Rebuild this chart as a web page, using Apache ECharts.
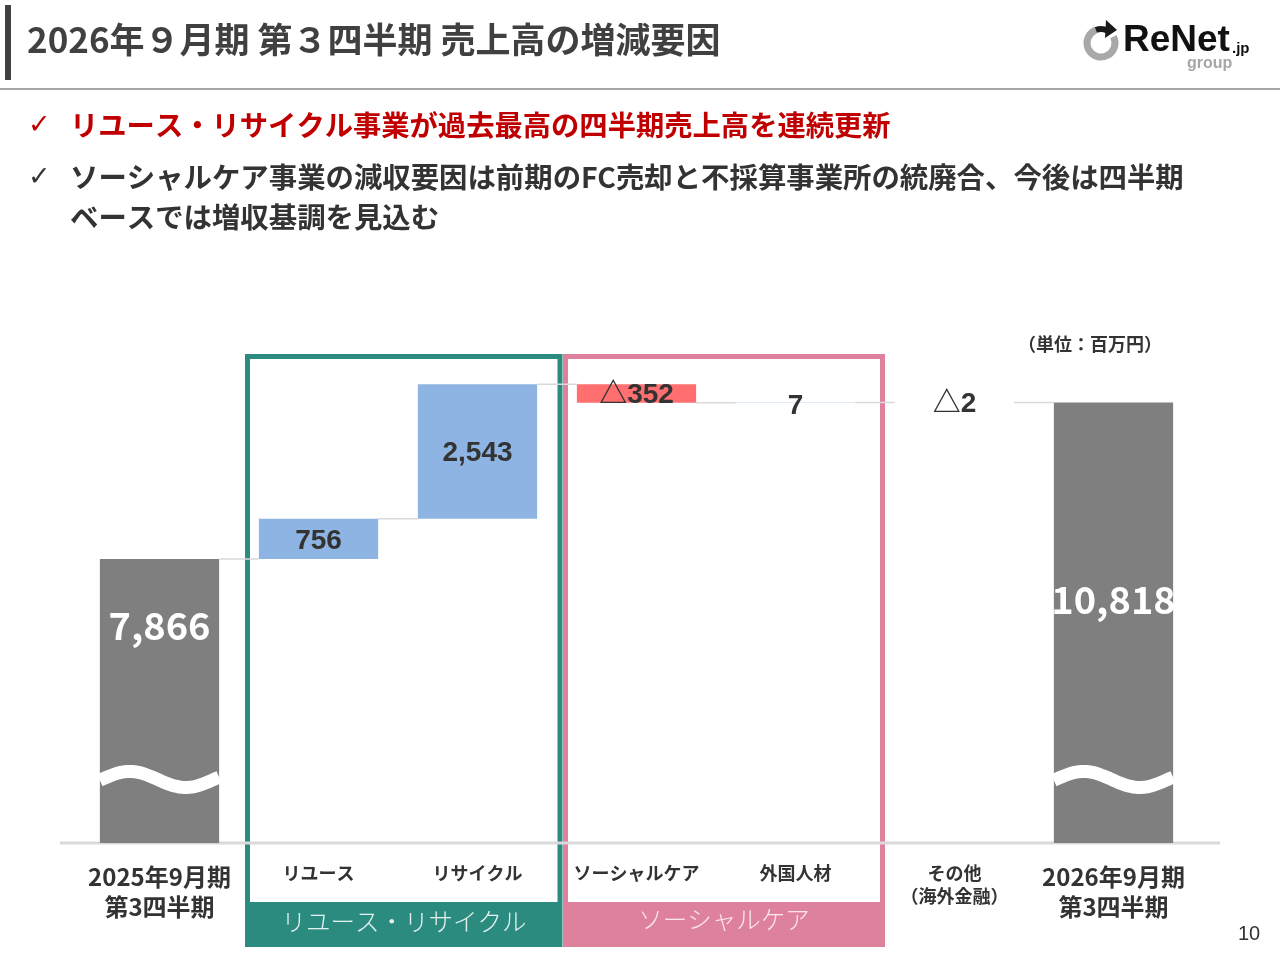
<!DOCTYPE html>
<html><head><meta charset="utf-8">
<script src="https://cdn.jsdelivr.net/npm/echarts@6/dist/echarts.min.js"></script>
<style>html,body{margin:0;padding:0;background:#fff}#c{width:1280px;height:960px}</style>
</head><body><div id="c"></div>
<script>
// ---- data ----
const categories = ['2025年9月期\n第3四半期', 'リユース', 'リサイクル', 'ソーシャルケア', '外国人材', 'その他\n（海外金融）', '2026年9月期\n第3四半期'];
const startValue = 7866;
const deltas = [756, 2543, -352, 7, -2];
const endValue = 10818;
const axisMin = 2500;
const axisMax = 12000;

// ---- build waterfall ----
const FONT = "'Noto Sans CJK JP','Noto Sans','DejaVu Sans',sans-serif";
const NUMFONT = "'Liberation Sans','Noto Sans CJK JP',sans-serif";
const baseData = [null];
const valData = [startValue];
const levels = [startValue];
let level = startValue;
deltas.forEach(d => {
  const lo = Math.min(level, level + d);
  baseData.push(lo);
  valData.push(Math.abs(d));
  level += d;
  levels.push(level);
});
baseData.push(null);
valData.push(endValue);

const fmt = v => (v < 0 ? '△' : '') + Math.abs(v).toLocaleString('en-US');
const labelTexts = [fmt(startValue)].concat(deltas.map(fmt)).concat([fmt(endValue)]);

const GRAY = '#7f7f7f', BLUE = '#8db4e2', RED = '#ff6f6f';
const valueItems = valData.map((v, i) => {
  const isTotal = i === 0 || i === valData.length - 1;
  const d = isTotal ? 0 : deltas[i - 1];
  return {
    value: v,
    itemStyle: { color: isTotal ? GRAY : (d < 0 ? RED : BLUE) },
    label: isTotal ? {
      show: true, position: 'insideTop', distance: i === 0 ? 48 : 178,
      color: '#fff', fontSize: 38, fontWeight: 'bold', fontFamily: FONT,
      formatter: () => labelTexts[i]
    } : {
      show: true, position: 'inside', offset: [0, Math.abs(d) < 50 && d > 0 ? 4 : 2],
      color: '#333', fontSize: 28, fontWeight: 'bold', fontFamily: NUMFONT,
      formatter: () => labelTexts[i]
    }
  };
});

const connectorData = levels.map((lv, i) => [i, lv]);
const breakLevel = 3700;
const waveData = [[0, breakLevel], [categories.length - 1, breakLevel]];

const chart = echarts.init(document.getElementById('c'), null, { renderer: 'canvas' });

const TEAL = '#2c8b7f', PINK = '#de819d';

const option = {
  animation: false,
  backgroundColor: '#fff',
  grid: { left: 80, right: 87, top: 340, bottom: 117 },
  xAxis: {
    type: 'category',
    data: categories.map((c, i) => ({
      value: c,
      textStyle: (i === 0 || i === categories.length - 1)
        ? { fontSize: 24, lineHeight: 30 }
        : { fontSize: 18, lineHeight: 23 }
    })),
    axisLine: { show: false },
    axisTick: { show: false },
    axisLabel: { interval: 0, margin: 19, color: '#333', fontWeight: 'bold', fontFamily: FONT }
  },
  yAxis: { type: 'value', min: axisMin, max: axisMax, show: false, splitLine: { show: false } },
  graphic: [
    // header
    { type: 'rect', z: 1, shape: { x: 5, y: 5, width: 6, height: 75 }, style: { fill: '#404040' } },
    { type: 'text', z: 1, left: 27, top: 22, style: { text: '2026年９月期 第３四半期 売上高の増減要因', fill: '#404040', font: "bold 35px " + FONT } },
    { type: 'line', z: 1, shape: { x1: 0, y1: 89, x2: 1280, y2: 89 }, style: { stroke: '#a6a6a6', lineWidth: 2 } },
    // logo
    { type: 'arc', z: 1, shape: { cx: 1101, cy: 43, r: 14, startAngle: -Math.PI * 0.15, endAngle: -Math.PI * 0.62, clockwise: true }, style: { stroke: '#a8a8a8', lineWidth: 7, fill: null } },
    { type: 'arc', z: 1, shape: { cx: 1101, cy: 43, r: 14, startAngle: -Math.PI * 0.62, endAngle: -Math.PI * 0.35, clockwise: true }, style: { stroke: '#1a1a1a', lineWidth: 6, fill: null } },
    { type: 'polygon', z: 1, shape: { points: [[1106, 20], [1117, 30], [1105, 38]] }, style: { fill: '#1a1a1a' } },
    { type: 'text', z: 1, left: 1123, top: 22, style: { text: 'ReNet', fill: '#111', font: "bold 37px 'Liberation Sans','DejaVu Sans',sans-serif" } },
    { type: 'text', z: 1, left: 1232, top: 41, style: { text: '.jp', fill: '#111', font: "bold 15px 'Liberation Sans',sans-serif" } },
    { type: 'text', z: 1, left: 1187, top: 56, style: { text: 'group', fill: '#a6a6a6', font: "bold 16px 'Liberation Sans',sans-serif" } },
    // bullets
    { type: 'text', z: 1, left: 28, top: 112, style: { text: '✓', fill: '#c00000', font: "27px 'DejaVu Sans',sans-serif" } },
    { type: 'text', z: 1, left: 70, top: 111, style: { text: 'リユース・リサイクル事業が過去最高の四半期売上高を連続更新', fill: '#c00000', font: "bold 28.3px " + FONT } },
    { type: 'text', z: 1, left: 28, top: 164, style: { text: '✓', fill: '#333', font: "27px 'DejaVu Sans',sans-serif" } },
    { type: 'text', z: 1, left: 70, top: 163, style: { text: 'ソーシャルケア事業の減収要因は前期のFC売却と不採算事業所の統廃合、今後は四半期', fill: '#333', font: "bold 28.4px " + FONT } },
    { type: 'text', z: 1, left: 70, top: 203, style: { text: 'ベースでは増収基調を見込む', fill: '#333', font: "bold 28.4px " + FONT } },
    // unit
    { type: 'text', z: 1, left: 1018, top: 335, style: { text: '（単位：百万円）', fill: '#333', font: "bold 18px " + FONT } },
    // group boxes
    { type: 'rect', z: 0, shape: { x: 247.5, y: 356.5, width: 312.5, height: 588 }, style: { fill: null, stroke: TEAL, lineWidth: 5 } },
    { type: 'rect', z: 0, shape: { x: 245, y: 902, width: 317, height: 44 }, style: { fill: TEAL } },
    { type: 'text', z: 1, x: 404, y: 922, style: { text: 'リユース・リサイクル', fill: '#e2f1ee', font: "300 24.5px " + FONT, align: 'center', verticalAlign: 'middle' } },
    { type: 'rect', z: 0, shape: { x: 565.5, y: 356.5, width: 317, height: 588 }, style: { fill: null, stroke: PINK, lineWidth: 5 } },
    { type: 'rect', z: 0, shape: { x: 563, y: 902, width: 322, height: 44 }, style: { fill: PINK } },
    { type: 'text', z: 1, x: 724, y: 920, style: { text: 'ソーシャルケア', fill: '#fbe6ed', font: "300 24.5px " + FONT, align: 'center', verticalAlign: 'middle' } },
    // axis line
    { type: 'line', z: 1, shape: { x1: 60, y1: 843, x2: 1220, y2: 843 }, style: { stroke: '#d9d9d9', lineWidth: 3 } },
    // page number
    { type: 'text', z: 1, left: 1238, top: 924, style: { text: '10', fill: '#333', font: "20px 'Liberation Sans',sans-serif" } }
  ],
  series: [
    {
      type: 'bar', stack: 'w', barWidth: '75%', silent: true,
      itemStyle: { color: 'rgba(0,0,0,0)' },
      data: baseData.map(v => v === null ? '-' : v)
    },
    {
      type: 'bar', stack: 'w', barWidth: '75%',
      data: valueItems
    },
    {
      type: 'custom', z: 1, silent: true, clip: false,
      data: connectorData,
      renderItem: (params, api) => {
        const i = api.value(0), lv = api.value(1);
        if (i >= categories.length - 1) return null;
        const a = api.coord([i, lv]), b = api.coord([i + 1, lv]);
        const hw = api.size([1, 0])[0] * 0.75 / 2;
        return { type: 'line', shape: { x1: a[0] + hw, y1: a[1], x2: b[0] - hw, y2: b[1] }, style: { stroke: '#d9d9d9', lineWidth: 1.5 } };
      }
    },
    {
      type: 'custom', z: 5, silent: true, clip: false,
      data: waveData,
      renderItem: (params, api) => {
        const c = api.coord([api.value(0), api.value(1)]);
        const w = api.size([1, 0])[0] * 0.75;
        const x0 = c[0] - w / 2;
        const pts = [];
        for (let k = 0; k <= 48; k++) {
          const t = k / 48;
          pts.push([x0 + t * w, c[1] + 8 * Math.cos(2 * Math.PI * (t - 0.72) / 0.94)]);
        }
        return { type: 'polyline', shape: { points: pts }, style: { stroke: '#fff', lineWidth: 13, fill: null } };
      }
    }
  ]
};
chart.setOption(option);
</script>
</body></html>
